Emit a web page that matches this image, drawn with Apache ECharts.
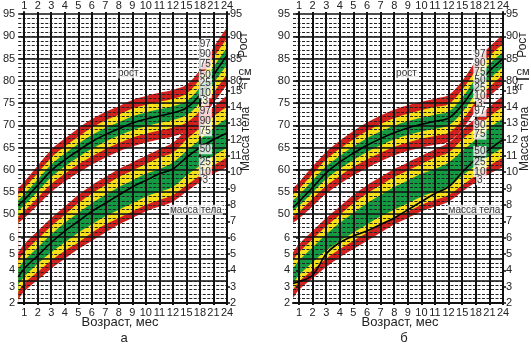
<!DOCTYPE html>
<html><head><meta charset="utf-8">
<script src="https://cdn.jsdelivr.net/npm/echarts@6/dist/echarts.min.js"></script>
<style>html,body{margin:0;padding:0;background:#fff}#c{width:531px;height:344px}</style>
</head><body><div id="c"></div>
<script>
// ---- axis labels ----
const months = ['1','2','3','4','5','6','7','8','9','10','11','12','15','18','21','24'];
const xStart = -0.44;            // left edge of the grid (before month 1)
const heightTicksLeft = [50,55,60,65,70,75,80,85,90,95];
const heightTicksRight = [80,85,90,95];
const weightTicksLeft = [2,3,4,5,6];
const weightTicksRight = [2,3,4,5,6,7,8,9,10,11,12,13,14,15];
const centiles = ['97','90','75','50','25','10','3'];

// ---- panel а : height (cm), points at start, 1..12, 15, 18, 21, 24 months ----
const hA_p3  = [48.0,49.1,52.0,55.0,57.3,59.3,61.1,62.7,64.1,65.2,66.1,66.8,67.5,68.6,71.1,75.0,79.1];
const hA_p10 = [49.5,50.6,53.7,56.8,59.1,61.2,63.0,64.6,66.0,67.2,68.1,68.8,69.5,70.6,73.2,77.3,81.5];
const hA_p25 = [50.8,52.0,55.1,58.3,60.7,62.8,64.7,66.3,67.7,68.9,69.8,70.5,71.2,72.3,75.1,79.4,83.6];
const hA_p75 = [53.1,54.4,57.8,61.2,63.6,65.8,67.8,69.4,70.7,72.0,72.9,73.6,74.3,75.4,78.5,83.1,87.5];
const hA_p90 = [54.4,55.8,59.2,62.7,65.2,67.4,69.5,71.1,72.4,73.7,74.6,75.3,76.0,77.1,80.4,85.2,89.6];
const hA_p97 = [55.9,57.3,60.9,64.5,67.0,69.3,71.4,73.0,74.3,75.7,76.6,77.3,78.0,79.1,82.5,87.5,92.0];
const hA_child = [52.0,53.2,56.5,59.8,62.2,64.3,66.3,67.9,69.2,70.5,71.4,72.1,72.8,73.9,76.8,81.3,85.8];
// ---- panel а : weight (kg) ----
const wA_p3  = [2.2,2.7,3.4,4.1,4.7,5.3,5.8,6.3,6.8,7.2,7.6,7.9,8.2,8.8,9.4,9.9,10.3];
const wA_p10 = [2.7,3.2,3.9,4.6,5.2,5.7,6.3,6.8,7.2,7.6,8.0,8.3,8.6,9.2,9.8,10.4,10.9];
const wA_p25 = [3.1,3.6,4.4,5.1,5.7,6.3,6.8,7.3,7.7,8.1,8.5,8.8,9.1,9.8,10.4,11.0,11.5];
const wA_p75 = [4.1,4.6,5.4,6.2,6.9,7.5,8.1,8.6,9.1,9.5,9.9,10.2,10.6,11.3,12.0,12.7,13.3];
const wA_p90 = [4.6,5.1,5.9,6.7,7.4,8.1,8.7,9.2,9.7,10.1,10.5,10.9,11.2,12.0,12.7,13.4,14.0];
const wA_p97 = [5.1,5.6,6.4,7.2,7.9,8.6,9.2,9.7,10.2,10.6,11.0,11.4,11.8,12.6,13.3,14.0,14.7];
const wA_child = [3.6,4.1,4.9,5.7,6.4,7.0,7.6,8.1,8.6,9.1,9.5,9.9,10.2,10.9,11.5,12.0,12.4];

// ---- panel б : height (cm) ----
const hB_p3  = [48.0,49.0,51.8,54.6,56.8,58.7,60.4,61.9,63.2,64.2,65.0,65.6,66.3,69.1,73.2,76.5,79.2];
const hB_p10 = [49.5,50.5,53.5,56.4,58.6,60.6,62.3,63.8,65.1,66.1,67.0,67.6,68.3,71.1,75.3,78.6,81.3];
const hB_p25 = [50.8,51.9,54.9,57.9,60.2,62.2,64.0,65.5,66.8,67.8,68.6,69.2,70.0,72.9,77.1,80.4,83.1];
const hB_p75 = [53.1,54.3,57.6,60.8,63.1,65.2,67.1,68.6,69.9,70.9,71.7,72.4,73.1,76.2,80.5,83.8,86.5];
const hB_p90 = [54.4,55.7,59.0,62.3,64.7,66.8,68.7,70.3,71.6,72.6,73.4,74.1,74.8,78.0,82.3,85.6,88.3];
const hB_p97 = [55.9,57.2,60.7,64.0,66.5,68.7,70.6,72.2,73.5,74.5,75.3,76.0,76.8,80.0,84.4,87.7,90.4];
const hB_child = [51.5,52.8,56.0,59.3,61.7,63.7,65.5,67.0,68.3,69.4,70.2,70.9,71.6,74.6,78.8,82.2,85.0];
// ---- panel б : weight (kg) ----
const wB_p3  = [2.3,2.8,3.5,4.2,4.8,5.3,5.8,6.3,6.8,7.2,7.6,7.9,8.2,8.8,9.4,9.9,10.3];
const wB_p10 = [2.8,3.3,4.0,4.7,5.3,5.8,6.3,6.8,7.2,7.6,8.0,8.3,8.6,9.2,9.8,10.4,10.9];
const wB_p25 = [3.2,3.7,4.5,5.2,5.8,6.3,6.8,7.3,7.7,8.1,8.5,8.8,9.1,9.8,10.4,11.0,11.5];
const wB_p75 = [4.1,4.6,5.4,6.2,6.9,7.5,8.1,8.6,9.1,9.5,9.9,10.2,10.6,11.3,12.0,12.7,13.3];
const wB_p90 = [4.6,5.1,5.9,6.7,7.4,8.1,8.7,9.2,9.7,10.1,10.5,10.9,11.2,12.0,12.7,13.4,14.0];
const wB_p97 = [5.1,5.6,6.4,7.2,7.9,8.6,9.2,9.7,10.2,10.6,11.0,11.4,11.8,12.6,13.3,14.0,14.7];
const wB_child = [3.2,3.3,3.7,5.0,5.7,6.1,6.4,6.8,7.2,7.7,8.2,8.7,9.1,10.0,10.8,11.4,12.0];

// ---- centile label positions (value on the axis) ----
const hA_labels = [88.2,85.9,83.7,81.2,79.4,77.2,75.4];
const wA_labels = [13.7,13.1,12.5,11.4,10.6,10.0,9.5];
const hB_labels = [85.9,83.9,81.9,80.1,78.3,76.5,74.7];
const wB_labels = [13.7,12.9,12.3,11.3,10.6,10.0,9.5];
const labelPosA = 13.4, labelPosB = 13.3;

// ---------------------------------------------------------------
const RED = '#d2201f', YEL = '#f6e11b', GRN = '#139a43';
const FONT = 'Liberation Sans, Arial, sans-serif';
const idx = months.map((m, i) => i);
const xs = [xStart].concat(idx);
const pts = arr => xs.map((x, i) => [x, arr[i]]);

const grids = [
  {left: 15, top: 10, width: 212, height: 293},
  {left: 293, top: 10, width: 210, height: 293}
];
const xAxis = [], yAxis = [], series = [];

function range(a, b, s) { const r = []; for (let v = a; v <= b + 1e-9; v += s) r.push(v); return r; }

[0, 1].forEach(p => {
  xAxis.push({
    gridIndex: p, type: 'value', min: xStart, max: 15, position: 'bottom', z: 5,
    axisLine: {show: true, onZero: false, lineStyle: {color: '#111', width: 2}},
    axisTick: {show: true, customValues: idx, length: 2, lineStyle: {color: '#111', width: 2}},
    axisLabel: {customValues: idx, formatter: v => months[v], fontSize: 11, margin: 4, color: '#222', fontFamily: FONT},
    splitLine: {show: true, lineStyle: {color: '#111', width: 2}}
  });
  xAxis.push({
    gridIndex: p, type: 'value', min: xStart, max: 15, position: 'top', z: 5,
    axisLine: {show: false}, axisTick: {show: false, customValues: idx},
    axisLabel: {customValues: idx, formatter: v => months[v], fontSize: 11, margin: 1, color: '#222', fontFamily: FONT},
    splitLine: {show: false}
  });
  const lab = (vals) => ({customValues: vals, fontSize: 11, margin: 3, color: '#222', fontFamily: FONT});
  yAxis.push({gridIndex: p, type: 'value', min: 30, max: 95.5, position: 'left', z: 5,
    axisLine: {show: true, lineStyle: {color: '#111', width: 2}},
    axisTick: {show: true, customValues: heightTicksLeft, length: 3, lineStyle: {color: '#111', width: 1.5}},
    axisLabel: lab(heightTicksLeft), splitLine: {show: false}});
  yAxis.push({gridIndex: p, type: 'value', min: 2, max: 19.8, position: 'left', z: 5,
    axisLine: {show: false},
    axisTick: {show: true, customValues: weightTicksLeft, length: 3, lineStyle: {color: '#111', width: 1.5}},
    axisLabel: lab(weightTicksLeft), splitLine: {show: false}});
  yAxis.push({gridIndex: p, type: 'value', min: 30, max: 95.5, position: 'right', z: 5,
    axisLine: {show: true, lineStyle: {color: '#111', width: 2}},
    axisTick: {show: true, customValues: heightTicksRight, length: 3, lineStyle: {color: '#111', width: 1.5}},
    axisLabel: lab(heightTicksRight), splitLine: {show: false}});
  yAxis.push({gridIndex: p, type: 'value', min: 2, max: 19.8, position: 'right', z: 5,
    axisLine: {show: false},
    axisTick: {show: true, customValues: weightTicksRight, length: 3, lineStyle: {color: '#111', width: 1.5}},
    axisLabel: lab(weightTicksRight), splitLine: {show: false}});
  // grid lines: solid every 5 cm, dashed every 1 cm
  yAxis.push({gridIndex: p, type: 'value', min: 30, max: 95.5, z: 4,
    axisLine: {show: false}, axisLabel: {show: false},
    axisTick: {show: false, customValues: range(35, 95, 5)},
    splitLine: {show: true, lineStyle: {color: '#111', width: 1.5}}});
  yAxis.push({gridIndex: p, type: 'value', min: 30, max: 95.5, z: 4,
    axisLine: {show: false}, axisLabel: {show: false},
    axisTick: {show: false, customValues: range(31, 94, 1)},
    splitLine: {show: true, lineStyle: {color: '#222', width: 1, type: [3, 1.5]}}});
});

function bands(p, yIdx, arrs) {
  const cols = [RED, YEL, GRN, YEL, RED, '#ffffff'];
  arrs.forEach((a, k) => series.push({
    type: 'line', xAxisIndex: 2 * p, yAxisIndex: 6 * p + yIdx, data: pts(a),
    smooth: 0.35, symbol: 'none', silent: true, z: 1,
    lineStyle: {width: 0}, areaStyle: {color: cols[k], opacity: 1, origin: 'start'}
  }));
}
function childLine(p, yIdx, a) {
  series.push({type: 'line', xAxisIndex: 2 * p, yAxisIndex: 6 * p + yIdx, data: pts(a),
    smooth: 0.35, symbol: 'none', silent: true, z: 7, lineStyle: {color: '#000', width: 1.6}});
}
function labels(p, yIdx, xpos, vals, texts, fs) {
  series.push({type: 'scatter', xAxisIndex: 2 * p, yAxisIndex: 6 * p + yIdx, symbolSize: 0, z: 9, silent: true,
    data: vals.map((v, i) => ({value: [xpos, v], name: texts[i]})),
    label: {show: true, position: 'inside', formatter: d => d.name, color: '#000', fontSize: fs || 10,
      fontFamily: FONT, backgroundColor: '#fff', padding: [0, 1, 0, 1], lineHeight: 10}});
}

bands(0, 0, [hA_p97, hA_p90, hA_p75, hA_p25, hA_p10, hA_p3]);
bands(0, 1, [wA_p97, wA_p90, wA_p75, wA_p25, wA_p10, wA_p3]);
bands(1, 0, [hB_p97, hB_p90, hB_p75, hB_p25, hB_p10, hB_p3]);
bands(1, 1, [wB_p97, wB_p90, wB_p75, wB_p25, wB_p10, wB_p3]);
childLine(0, 0, hA_child); childLine(0, 1, wA_child);
childLine(1, 0, hB_child); childLine(1, 1, wB_child);
labels(0, 0, labelPosA, hA_labels, centiles);
labels(0, 1, labelPosA, wA_labels, centiles);
labels(1, 0, labelPosB, hB_labels, centiles);
labels(1, 1, labelPosB, wB_labels, centiles);
labels(0, 0, 7.7, [81.7], ['рост']);
labels(1, 0, 7.9, [81.7], ['рост']);
labels(0, 1, 12.7, [7.7], ['масса тела']);
labels(1, 1, 12.9, [7.7], ['масса тела']);

const txt = (x, y, t, fs, rot) => ({type: 'text', x, y, rotation: rot || 0, z: 20,
  style: {text: t, fill: '#222', font: fs + 'px ' + FONT, textAlign: 'center', textVerticalAlign: 'middle'}});
const graphic = [
  txt(120, 322, 'Возраст, мес', 13), txt(124, 338, 'а', 13),
  txt(400, 322, 'Возраст, мес', 13), txt(404, 338, 'б', 13),
  txt(244, 45, 'Рост', 12, Math.PI / 2), txt(246, 139, 'Масса тела', 12, Math.PI / 2),
  txt(245, 72, 'см', 11), txt(243, 86, 'кг', 11),
  {type: 'line', z: 20, shape: {x1: 239, y1: 79, x2: 250, y2: 79}, style: {stroke: '#111', lineWidth: 1.5}},
  txt(523, 45, 'Рост', 12, Math.PI / 2), txt(525, 139, 'Масса тела', 12, Math.PI / 2),
  txt(523, 72, 'см', 11), txt(519, 87, 'кг', 11),
  {type: 'line', z: 20, shape: {x1: 516, y1: 79, x2: 529, y2: 79}, style: {stroke: '#111', lineWidth: 1.5}}
];

const chart = echarts.init(document.getElementById('c'), null, {renderer: 'canvas'});
chart.setOption({animation: false, backgroundColor: '#fff', grid: grids, xAxis, yAxis, series, graphic});
</script></body></html>
